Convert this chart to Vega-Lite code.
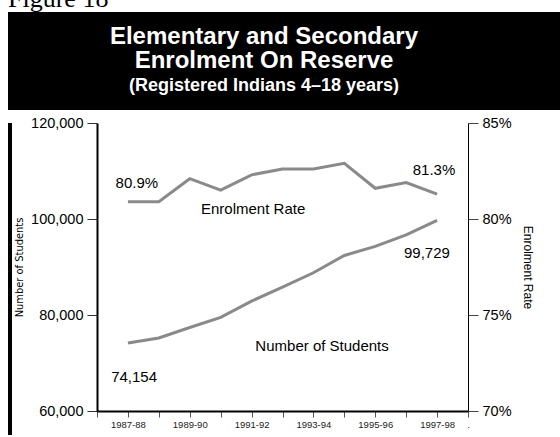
{
  "$schema": "https://vega.github.io/schema/vega-lite/v6.json",
  "background": "white",
  "padding": {"left": 8, "top": -14, "right": 0, "bottom": 0},
  "title": {
    "text": "Figure 18",
    "anchor": "start",
    "font": "Liberation Serif",
    "fontSize": 26,
    "fontWeight": "normal",
    "color": "black",
    "offset": 0
  },
  "config": {
    "view": {"stroke": null},
    "font": "Liberation Sans",
    "axis": {
      "grid": false,
      "labelFont": "Liberation Sans",
      "titleFont": "Liberation Sans",
      "labelColor": "black",
      "titleColor": "black",
      "titleFontWeight": "normal",
      "labelOverlap": false,
      "labelFlush": false
    }
  },
  "datasets": {
    "series": [
      {"year": 1987, "period": "1987-88", "students": 74154, "rate": 80.9},
      {"year": 1988, "period": "1988-89", "students": 75200, "rate": 80.9},
      {"year": 1989, "period": "1989-90", "students": 77400, "rate": 82.1},
      {"year": 1990, "period": "1990-91", "students": 79500, "rate": 81.5},
      {"year": 1991, "period": "1991-92", "students": 82900, "rate": 82.3},
      {"year": 1992, "period": "1992-93", "students": 85800, "rate": 82.6},
      {"year": 1993, "period": "1993-94", "students": 88800, "rate": 82.6},
      {"year": 1994, "period": "1994-95", "students": 92400, "rate": 82.9},
      {"year": 1995, "period": "1995-96", "students": 94300, "rate": 81.6},
      {"year": 1996, "period": "1996-97", "students": 96700, "rate": 81.9},
      {"year": 1997, "period": "1997-98", "students": 99729, "rate": 81.3}
    ],
    "rateLabels": [
      {"year": 1987.29, "rate": 81.9, "label": "80.9%"},
      {"year": 1996.9, "rate": 82.53, "label": "81.3%"},
      {"year": 1991.05, "rate": 80.52, "label": "Enrolment Rate"}
    ],
    "studentLabels": [
      {"year": 1996.67, "students": 92900, "label": "99,729"},
      {"year": 1993.28, "students": 73600, "label": "Number of Students"},
      {"year": 1987.2, "students": 67100, "label": "74,154"}
    ],
    "headingLines": [
      {"line": 1, "text": "Elementary and Secondary"},
      {"line": 2, "text": "Enrolment On Reserve"}
    ],
    "subLines": [
      {"line": 3, "text": "(Registered Indians 4–18 years)"}
    ]
  },
  "spacing": 5,
  "vconcat": [
    {
      "width": 552,
      "height": 98,
      "view": {"fill": "black", "stroke": null},
      "layer": [
        {
          "data": {"name": "headingLines"},
          "mark": {"type": "text", "color": "white", "font": "Liberation Sans", "fontWeight": "bold", "fontSize": 24, "align": "center", "baseline": "middle", "dx": -20},
          "encoding": {
            "y": {"field": "line", "type": "quantitative", "scale": {"domain": [0, 4], "reverse": true, "nice": false, "zero": false}, "axis": null},
            "text": {"field": "text"}
          }
        },
        {
          "data": {"name": "subLines"},
          "mark": {"type": "text", "color": "white", "font": "Liberation Sans", "fontWeight": "bold", "fontSize": 18, "align": "center", "baseline": "middle", "dx": -20},
          "encoding": {
            "y": {"field": "line", "type": "quantitative"},
            "text": {"field": "text"}
          }
        }
      ]
    },
    {
      "spacing": 1,
      "hconcat": [
        {
          "width": 4,
          "height": 312,
          "view": {"fill": "black", "stroke": null},
          "data": {"values": [{"k": 1}]},
          "mark": {"type": "rect", "color": "black"},
          "encoding": {}
        },
        {
          "width": 371,
          "height": 288,
          "encoding": {
            "x": {
              "field": "year", "type": "quantitative",
              "scale": {"domain": [1986, 1998], "nice": false, "zero": false},
              "axis": {
                "values": [1986, 1987, 1988, 1989, 1990, 1991, 1992, 1993, 1994, 1995, 1996, 1997, 1998],
                "labelExpr": "datum.value % 2 == 1 ? datum.value + '-' + substring(toString(datum.value + 1), 2, 4) : (datum.value == 1998 ? '.' : '')",
                "title": null,
                "tickSize": 6,
                "tickColor": "#555555",
                "labelFontSize": 9.5,
                "labelColor": "#222222",
                "labelPadding": 2,
                "domainColor": "black",
                "domainWidth": 2
              }
            }
          },
          "layer": [
            {
              "layer": [
                {
                  "data": {"name": "series"},
                  "mark": {"type": "line", "color": "#8a8a8a", "strokeWidth": 3},
                  "encoding": {
                    "y": {
                      "field": "rate", "type": "quantitative",
                      "scale": {"domain": [70, 85], "nice": false, "zero": false},
                      "axis": {
                        "orient": "right",
                        "values": [70, 75, 80, 85],
                        "labelExpr": "datum.value + '%'",
                        "title": "Enrolment Rate",
                        "titleFontSize": 12,
                        "titlePadding": 9,
                        "tickSize": 10,
                        "tickColor": "#444444",
                        "labelFontSize": 14.5,
                        "labelPadding": 4,
                        "domainColor": "black",
                        "domainWidth": 1
                      }
                    }
                  }
                },
                {
                  "data": {"name": "rateLabels"},
                  "mark": {"type": "text", "fontSize": 15, "font": "Liberation Sans", "color": "black", "align": "center", "baseline": "middle"},
                  "encoding": {
                    "y": {"field": "rate", "type": "quantitative"},
                    "text": {"field": "label"}
                  }
                }
              ]
            },
            {
              "layer": [
                {
                  "data": {"name": "series"},
                  "mark": {"type": "line", "color": "#8a8a8a", "strokeWidth": 3},
                  "encoding": {
                    "y": {
                      "field": "students", "type": "quantitative",
                      "scale": {"domain": [60000, 120000], "nice": false, "zero": false},
                      "axis": {
                        "orient": "left",
                        "values": [60000, 80000, 100000, 120000],
                        "format": ",d",
                        "title": "Number of Students",
                        "titleFont": "Liberation Sans Narrow, DejaVu Sans Condensed, Liberation Sans",
                        "titleFontSize": 11,
                        "titlePadding": 6,
                        "tickSize": 10,
                        "tickColor": "#333333",
                        "labelFontSize": 14.5,
                        "labelPadding": 4,
                        "domainColor": "black",
                        "domainWidth": 2
                      }
                    }
                  }
                },
                {
                  "data": {"name": "studentLabels"},
                  "mark": {"type": "text", "fontSize": 15, "font": "Liberation Sans", "color": "black", "align": "center", "baseline": "middle"},
                  "encoding": {
                    "y": {"field": "students", "type": "quantitative"},
                    "text": {"field": "label"}
                  }
                }
              ]
            }
          ],
          "resolve": {"scale": {"y": "independent"}}
        }
      ]
    }
  ]
}
